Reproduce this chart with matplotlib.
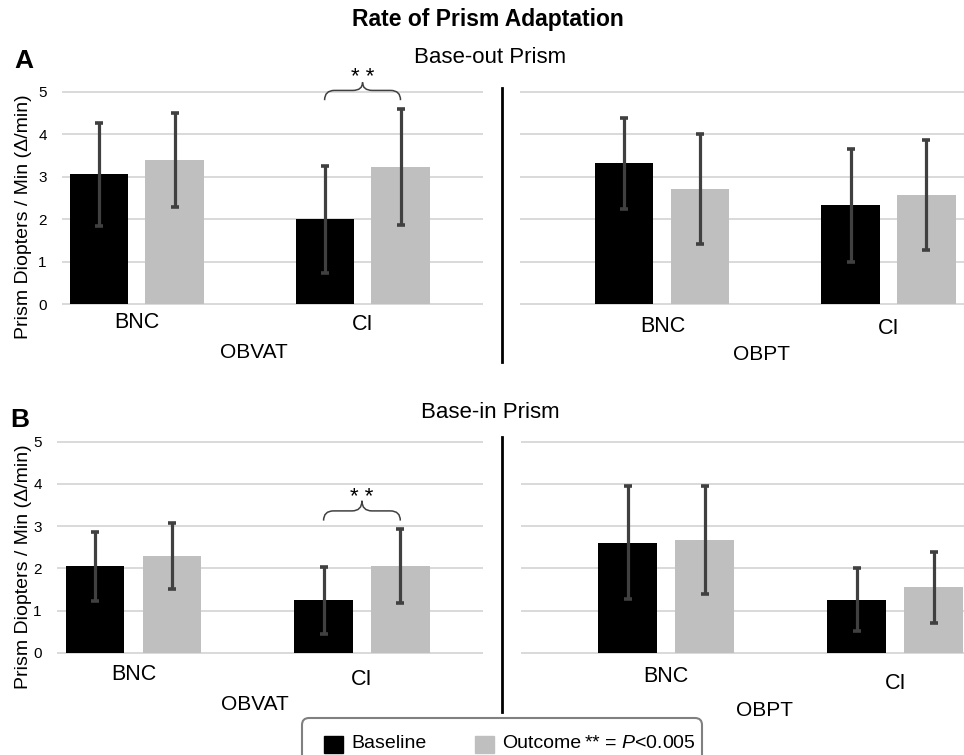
import numpy as np
import matplotlib.pyplot as plt
from matplotlib import transforms
from matplotlib.path import Path
from matplotlib.patches import PathPatch, Rectangle, FancyBboxPatch
from matplotlib.lines import Line2D

plt.rcParams['font.family'] = ['Liberation Sans', 'DejaVu Sans']
plt.rcParams['mathtext.fontset'] = 'custom'
plt.rcParams['mathtext.rm'] = 'Liberation Sans'
plt.rcParams['mathtext.it'] = 'Liberation Sans:italic'

# categories
subgroups = ['BNC', 'CI']
programs = ['OBVAT', 'OBPT']

# A: base-out prism (mean, error)
out_obvat_base = [3.05, 2.00]
out_obvat_base_err = [1.22, 1.26]
out_obvat_outc = [3.39, 3.22]
out_obvat_outc_err = [1.10, 1.37]
out_obpt_base = [3.31, 2.32]
out_obpt_base_err = [1.08, 1.34]
out_obpt_outc = [2.71, 2.57]
out_obpt_outc_err = [1.30, 1.29]

# B: base-in prism
in_obvat_base = [2.05, 1.24]
in_obvat_base_err = [0.82, 0.80]
in_obvat_outc = [2.30, 2.05]
in_obvat_outc_err = [0.78, 0.88]
in_obpt_base = [2.61, 1.26]
in_obpt_base_err = [1.34, 0.74]
in_obpt_outc = [2.66, 1.55]
in_obpt_outc_err = [1.28, 0.84]

W, H = 964, 755
fig = plt.figure(figsize=(W / 100, H / 100), dpi=100)
# pixel coordinates, origin top-left
pxt = transforms.Affine2D().scale(1.0 / W, -1.0 / H).translate(0, 1) + fig.transFigure

BLACK = '#000000'
GRAY = '#bfbfbf'
ERR = '#404040'
GRID = '#d9d9d9'
OFF = 0.168
BW = 0.257
YLO, YHI = -0.04, 5.04


def brace(ax, x0, x1, ylo, ymid, ytop):
    xm = (x0 + x1) / 2
    dx = (x1 - x0) * 0.13
    verts = [(x0, ylo), (x0, ymid), (x0 + dx, ymid), (xm - dx, ymid),
             (xm, ymid), (xm, ytop), (xm, ymid), (xm + dx, ymid),
             (x1 - dx, ymid), (x1, ymid), (x1, ylo)]
    codes = [Path.MOVETO, Path.CURVE3, Path.CURVE3, Path.LINETO,
             Path.CURVE3, Path.CURVE3, Path.CURVE3, Path.CURVE3,
             Path.LINETO, Path.CURVE3, Path.CURVE3]
    ax.add_patch(PathPatch(Path(verts, codes), fc='none', ec=ERR, lw=1.1,
                           clip_on=False))


def draw_half(left, right, y0, y5, xlim, base, base_err, outc, outc_err,
              group, group_x, cat_dy, group_dy, show_y):
    unit = (y0 - y5) / 5.0
    top = y0 - YHI * unit
    bot = y0 - YLO * unit
    ax = fig.add_axes([left / W, 1 - bot / H, (right - left) / W, (bot - top) / H])
    x = np.arange(len(subgroups))
    ax.bar(x - OFF, base, BW, color=BLACK, zorder=2)
    ax.bar(x + OFF, outc, BW, color=GRAY, zorder=2)
    ax.errorbar(x - OFF, base, yerr=base_err, fmt='none', ecolor=ERR,
                elinewidth=2.3, capsize=2.6, capthick=2.6, zorder=3)
    ax.errorbar(x + OFF, outc, yerr=outc_err, fmt='none', ecolor=ERR,
                elinewidth=2.3, capsize=2.6, capthick=2.6, zorder=3)
    ax.set_xlim(xlim)
    ax.set_ylim(YLO, YHI)
    ax.set_yticks(range(6))
    ax.yaxis.grid(True, color=GRID, lw=1.4)
    ax.set_axisbelow(True)
    for s in ax.spines.values():
        s.set_visible(False)
    ax.set_xticks([])
    ax.tick_params(length=0)
    if show_y:
        ax.tick_params(axis='y', labelsize=11, pad=11)
    else:
        ax.set_yticklabels([])
    tr = transforms.blended_transform_factory(ax.transData, ax.transAxes)
    span = bot - top
    for xi, lab, dy in zip(x, subgroups, cat_dy):
        ax.text(xi, (bot - y0 - dy) / span, lab, transform=tr, fontsize=15.5,
                ha='center', va='center')
    ax.text(group_x, (bot - y0 - group_dy) / span, group, transform=tr,
            fontsize=15, ha='center', va='center')
    return ax


# panel A
axA = draw_half(62, 483, 304, 91.7, (-0.33, 1.533), out_obvat_base, out_obvat_base_err,
                out_obvat_outc, out_obvat_outc_err, programs[0], 0.52, (19, 20), 48, True)
draw_half(520, 964, 304, 91.7, (-0.63, 1.334), out_obpt_base, out_obpt_base_err,
          out_obpt_outc, out_obpt_outc_err, programs[1], 0.44, (23, 25), 51, False)
brace(axA, 1 - OFF, 1 + OFF, 4.80, 5.03, 5.22)
axA.text(1, 5.20, '* *', fontsize=16, ha='center', va='baseline', clip_on=False)

# panel B
axB = draw_half(57, 483, 652.7, 441.7, (-0.335, 1.53), in_obvat_base, in_obvat_base_err,
                in_obvat_outc, in_obvat_outc_err, programs[0], 0.53, (22, 27), 52, True)
draw_half(521, 964, 652.7, 441.7, (-0.633, 1.30), in_obpt_base, in_obpt_base_err,
          in_obpt_outc, in_obpt_outc_err, programs[1], 0.43, (24, 31), 58, False)
brace(axB, 1 - OFF, 1 + OFF, 3.13, 3.36, 3.60)
axB.text(1, 3.55, '* *', fontsize=16, ha='center', va='baseline', clip_on=False)

# separators between the program groups
fig.add_artist(Line2D([502, 502], [88, 362], color='black', lw=2, transform=pxt))
fig.add_artist(Line2D([502, 502], [437, 712], color='black', lw=2, transform=pxt))

# titles and labels
fig.text(488, 26, 'Rate of Prism Adaptation', transform=pxt, fontsize=16.5,
         fontweight='bold', ha='center', va='baseline')
fig.text(490, 63, 'Base-out Prism', transform=pxt, fontsize=16, ha='center', va='baseline')
fig.text(490, 418, 'Base-in Prism', transform=pxt, fontsize=16, ha='center', va='baseline')
fig.text(14, 68, 'A', transform=pxt, fontsize=19, fontweight='bold', va='baseline')
fig.text(10, 427, 'B', transform=pxt, fontsize=19, fontweight='bold', va='baseline')
ylab = 'Prism Diopters / Min (\u0394/min)'
fig.text(24, 217, ylab, transform=pxt, fontsize=14, rotation=90, ha='center', va='center')
fig.text(24, 567, ylab, transform=pxt, fontsize=14, rotation=90, ha='center', va='center')

# legend
fig.add_artist(FancyBboxPatch((302, 718), 400, 60, boxstyle='round,pad=0,rounding_size=7',
                              transform=pxt, fc='white', ec='#808080', lw=1.5))
fig.add_artist(Rectangle((324, 736), 19, 17, transform=pxt, color=BLACK))
fig.text(351, 748, 'Baseline', transform=pxt, fontsize=14, va='baseline')
fig.add_artist(Rectangle((475, 736), 19, 17, transform=pxt, color=GRAY))
fig.text(502, 748, 'Outcome', transform=pxt, fontsize=14, va='baseline')
fig.text(584, 748, '** = $\\mathit{P}$<0.005', transform=pxt, fontsize=14, va='baseline')

fig.savefig('out.png', dpi=100)
